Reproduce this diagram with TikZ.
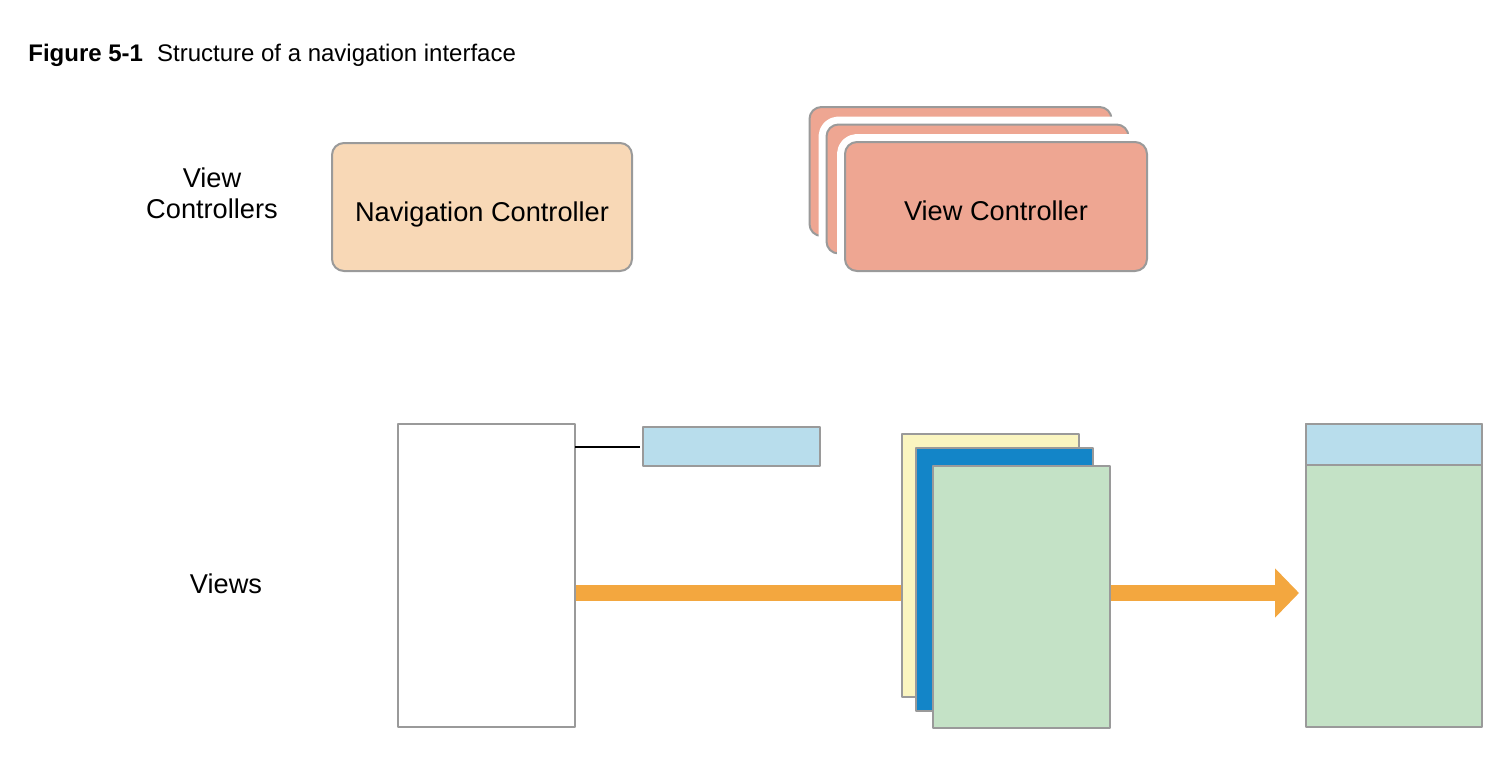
\documentclass[tikz,border=0pt]{standalone}
\usepackage{fontspec}
\setmainfont{Liberation Sans}
\usetikzlibrary{arrows.meta,backgrounds}
\definecolor{edgegray}{HTML}{9A9A9A}
\definecolor{peach}{HTML}{F8D8B6}
\definecolor{salmon}{HTML}{EEA692}
\definecolor{barblue}{HTML}{B8DDEC}
\definecolor{paleyellow}{HTML}{FAF5C0}
\definecolor{deepblue}{HTML}{1385C8}
\definecolor{palegreen}{HTML}{C4E2C6}
\definecolor{pushorange}{HTML}{F3A73F}
\begin{document}
\begin{tikzpicture}[x=0.5pt,y=-0.5pt,line join=round,
	boxline/.style={draw=edgegray,line width=1pt,inner sep=0pt,outer sep=0pt},
	ctrl/.style={boxline,rounded corners=6pt,minimum width=151pt,minimum height=64.5pt,text height=14pt,text depth=0pt,font=\fontsize{13.6}{15.5}\selectfont},
	vccard/.style={ctrl,fill=salmon,preaction={draw=white,line width=8pt}},
	view/.style={boxline,minimum width=88.5pt,minimum height=151.5pt},
	lbl/.style={font=\fontsize{13.6}{15.5}\selectfont,align=center},
	push/.style={line width=8pt,draw=pushorange,-{Triangle[width=24pt,length=12pt]}}]
	\useasboundingbox (0,0) rectangle (1512,772);
	\node[anchor=base west,inner sep=0pt,font=\fontsize{12}{14}\selectfont] (title) at (28,61) {\textbf{Figure 5-1}\hspace{7pt}Structure of a navigation interface};
	\node[lbl] (vclabel) at (212,193) {View\\Controllers};
	\node[lbl] (vlabel) at (226,584) {Views};
	\node[ctrl,fill=peach,minimum width=150pt,minimum height=64pt] (navctrl) at (482,207) {Navigation Controller};
	\node[vccard] (vcback) at (960.5,171.5) {};
	\node[vccard] (vcmid) at (977.5,189) {};
	\node[vccard] (vcfront) at (996,206.5) {View Controller};
	\node[view,fill=white] (rootview) at (486.5,575.5) {};
	\node[boxline,fill=barblue,minimum width=88.5pt,minimum height=19.5pt] (navbar) at (731.5,446.5) {};
	\draw[line width=1pt,shorten >=1.5pt] (rootview.east |- navbar.west) -- (navbar.west);
	\node[view,fill=paleyellow,minimum height=131.5pt] (stackback) at (990,565.5) {};
	\node[view,fill=deepblue,minimum height=131.5pt] (stackmid) at (1004.5,579.5) {};
	\node[view,fill=palegreen,minimum height=131pt] (stackfront) at (1021.5,597) {};
	\node[view,fill=palegreen,minimum width=88pt] (topview) at (1394,575.5) {};
	\node[boxline,fill=barblue,minimum width=88pt,minimum height=20.5pt,anchor=north] (topbar) at (topview.north) {};
	\coordinate (pushy) at (0,593);
	\begin{scope}[on background layer]
	\draw[push,shorten >=3.5pt] (rootview.east |- pushy) -- (topview.west |- pushy);
	\end{scope}
\end{tikzpicture}
\end{document}
